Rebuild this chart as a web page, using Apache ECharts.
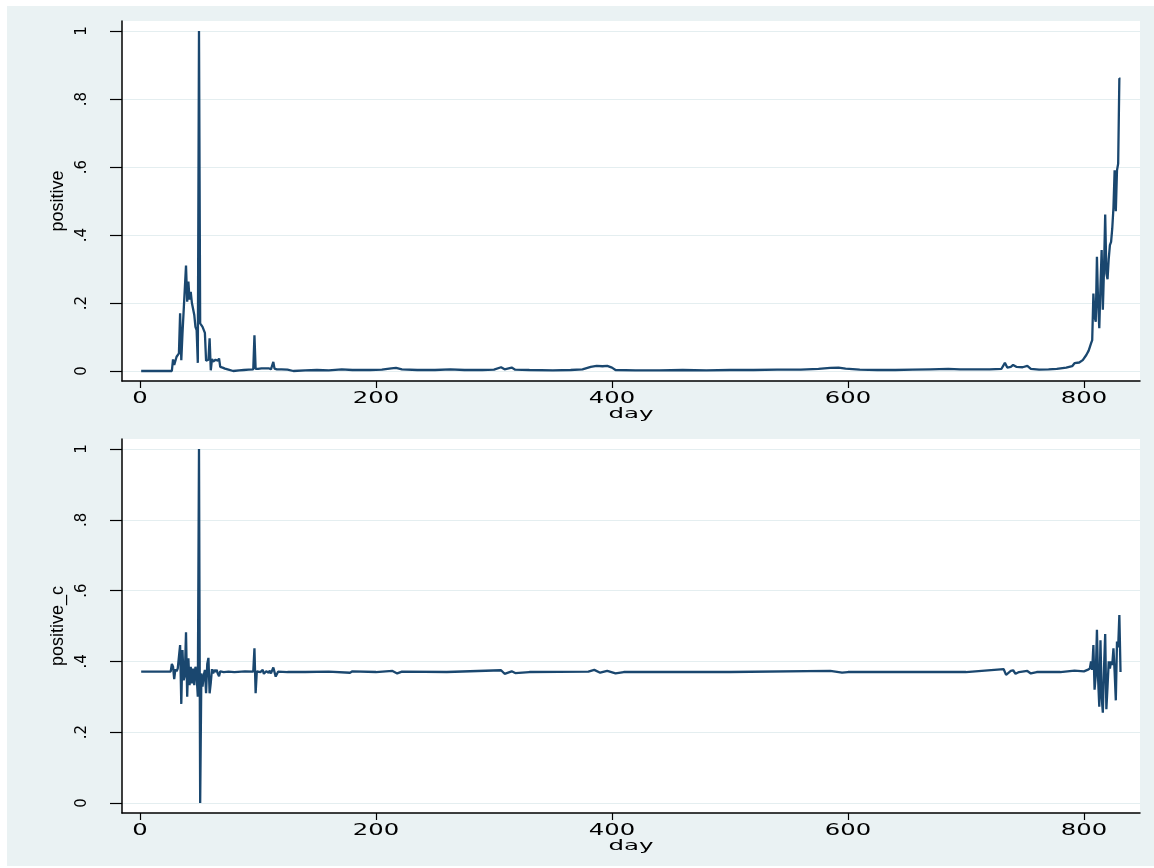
<!DOCTYPE html>
<html><head><meta charset="utf-8">
<script src="https://cdn.jsdelivr.net/npm/echarts@6/dist/echarts.min.js"></script>
<style>html,body{margin:0;padding:0;background:#fff;}#c{width:1154px;height:868px;}</style>
</head><body><div id="c"></div>
<script>
// ---- data ----
const xTickValues = [0, 200, 400, 600, 800];
const xTickLabels = ['0', '200', '400', '600', '800'];
const yTickValues = [0, 0.2, 0.4, 0.6, 0.8, 1];
const yTickLabels = ['0', '.2', '.4', '.6', '.8', '1'];
const xTitle = 'day';
const topTitle = 'positive';
const bottomTitle = 'positive_c';

// [day, positive]
const positive = [
  [1,0],[10,0],[20,0],[27,0],[28,0.034],[29,0.018],[31,0.042],[33,0.052],[34,0.17],[35,0.032],
  [36,0.11],[37,0.105],[39,0.31],[40,0.204],[41,0.263],[42,0.21],[43,0.233],[44,0.2],[45,0.2],
  [46,0.165],[47,0.13],[48,0.12],[49,0.024],[50,1.0],[51,0.14],[52,0.138],[53,0.13],[54,0.125],
  [55,0.112],[56,0.03],[57,0.032],[58,0.033],[59,0.096],[60,0.002],[61,0.035],[62,0.028],[63,0.03],
  [64,0.033],[65,0.028],[66,0.03],[67,0.037],[68,0.012],[70,0.01],[72,0.007],[75,0.004],[79,0.0],
  [84,0.002],[88,0.003],[92,0.004],[96,0.005],[97,0.105],[98,0.006],[100,0.006],[103,0.008],
  [104,0.013],[106,0.008],[107,0.01],[109,0.008],[110,0.01],[111,0.005],[113,0.027],[114,0.007],
  [116,0.005],[120,0.005],[125,0.004],[130,0.0],[140,0.002],[150,0.003],[160,0.002],[171,0.005],
  [180,0.003],[195,0.003],[205,0.004],[213,0.008],[217,0.009],[222,0.005],[235,0.003],[250,0.003],
  [263,0.005],[275,0.003],[290,0.003],[300,0.004],[306,0.011],[309,0.005],[315,0.01],[318,0.004],
  [330,0.003],[350,0.002],[365,0.003],[375,0.005],[382,0.012],[387,0.015],[392,0.014],[396,0.015],
  [400,0.01],[403,0.003],[420,0.002],[440,0.002],[460,0.003],[480,0.002],[500,0.003],[520,0.003],
  [540,0.004],[560,0.004],[575,0.006],[585,0.009],[592,0.01],[598,0.007],[610,0.004],[625,0.003],
  [640,0.003],[655,0.004],[670,0.005],[685,0.006],[695,0.005],[705,0.005],[720,0.005],[730,0.006],
  [733,0.024],[735,0.01],[738,0.012],[740,0.018],[743,0.012],[748,0.011],[752,0.015],[755,0.006],
  [762,0.004],[770,0.005],[777,0.006],[785,0.01],[790,0.014],[792,0.023],[796,0.025],[799,0.032],
  [802,0.047],[804,0.06],[806,0.081],[807,0.091],[808,0.228],[809,0.16],[810,0.145],[811,0.336],
  [812,0.2],[813,0.126],[814,0.25],[815,0.356],[816,0.18],[817,0.3],[818,0.46],[819,0.287],
  [820,0.27],[821,0.33],[822,0.37],[823,0.38],[824,0.42],[825,0.48],[826,0.59],[827,0.47],
  [828,0.59],[829,0.61],[830,0.86],[831,0.86]
];

// [day, positive_c]
const positiveC = [
  [1,0.371],[15,0.371],[26,0.371],[27,0.393],[28,0.385],[29,0.35],[30,0.378],[31,0.372],[32,0.38],
  [33,0.375],[34,0.446],[35,0.28],[36,0.432],[37,0.347],[38,0.36],[39,0.482],[40,0.30],[41,0.409],
  [42,0.333],[43,0.385],[44,0.338],[45,0.38],[46,0.333],[47,0.385],[48,0.36],[49,0.30],[50,1.0],
  [51,0.0],[52,0.366],[53,0.329],[54,0.36],[55,0.376],[56,0.31],[57,0.393],[58,0.41],[59,0.31],
  [60,0.34],[61,0.378],[62,0.366],[63,0.376],[64,0.37],[65,0.376],[66,0.365],[67,0.358],[68,0.372],
  [69,0.375],[71,0.37],[75,0.371],[80,0.37],[89,0.372],[96,0.371],[97,0.437],[98,0.31],[99,0.372],
  [102,0.37],[104,0.376],[105,0.365],[107,0.372],[109,0.368],[110,0.374],[111,0.366],[113,0.383],
  [115,0.357],[117,0.371],[125,0.37],[140,0.37],[160,0.371],[178,0.368],[180,0.372],[200,0.37],
  [214,0.373],[218,0.366],[222,0.371],[260,0.37],[306,0.375],[309,0.365],[315,0.372],[318,0.367],
  [330,0.37],[380,0.371],[385,0.376],[390,0.368],[396,0.373],[403,0.366],[410,0.37],[500,0.37],
  [585,0.373],[595,0.368],[600,0.37],[700,0.37],[732,0.378],[734,0.362],[738,0.373],[740,0.375],
  [742,0.365],[745,0.37],[752,0.373],[755,0.366],[760,0.37],[780,0.37],[792,0.374],[800,0.372],
  [803,0.376],[805,0.38],[806,0.40],[807,0.376],[808,0.446],[809,0.32],[810,0.36],[811,0.489],
  [812,0.35],[813,0.272],[814,0.46],[815,0.30],[816,0.255],[817,0.38],[818,0.477],[819,0.265],
  [820,0.33],[821,0.40],[822,0.38],[823,0.40],[824,0.39],[825,0.437],[826,0.37],[827,0.29],
  [828,0.456],[829,0.44],[830,0.531],[831,0.37]
];

// ---- styling / layout ----
const navy = '#1a476f';
const panelBg = '#eaf2f3';
const gridLineColor = '#e4eef0';
const xMin = -15.25, xMax = 847.5;

function yLabel(v) {
  for (let i = 0; i < yTickValues.length; i++) if (Math.abs(yTickValues[i] - v) < 1e-6) return yTickLabels[i];
  return '';
}
function xAxisCfg(gi) {
  return {
    type: 'value', gridIndex: gi, min: xMin, max: xMax,
    axisLine: { show: true, onZero: false, lineStyle: { color: '#000', width: 1.5 } },
    axisTick: { show: true, length: 7, customValues: xTickValues, lineStyle: { color: '#000', width: 1.2 } },
    axisLabel: { show: false },
    splitLine: { show: false }
  };
}
function yAxisCfg(gi, min, max, name) {
  return {
    type: 'value', gridIndex: gi, min: min, max: max,
    name: name, nameLocation: 'middle', nameRotate: 90, nameGap: 55,
    nameTextStyle: { fontFamily: "'Liberation Sans Narrow', 'Liberation Sans', sans-serif", fontSize: 18, color: '#000' },
    axisLine: { show: true, onZero: false, lineStyle: { color: '#000', width: 1.5 } },
    axisTick: { show: true, length: 12, customValues: yTickValues, lineStyle: { color: '#000', width: 1.2 } },
    axisLabel: { show: true, rotate: 90, margin: 32, customValues: yTickValues, formatter: yLabel,
      fontFamily: 'DejaVu Sans', fontSize: 15, color: '#000' },
    splitLine: { show: true, lineStyle: { color: gridLineColor, width: 1 } }
  };
}

const chart = echarts.init(document.getElementById('c'), null, { renderer: 'canvas' });
chart.setOption({
  animation: false,
  backgroundColor: '#ffffff',
  graphic: [
    { id: 'bgTop', type: 'rect', silent: true, z: -100, shape: { x: 7, y: 6, width: 1147, height: 432 }, style: { fill: panelBg } },
    { id: 'bgBot', type: 'rect', silent: true, z: -100, shape: { x: 7, y: 438, width: 1147, height: 428 }, style: { fill: panelBg } }
  ],
  grid: [
    { left: 122, top: 21, width: 1018, height: 360, show: true, backgroundColor: '#fff', borderWidth: 0, containLabel: false },
    { left: 122, top: 439, width: 1018, height: 374, show: true, backgroundColor: '#fff', borderWidth: 0, containLabel: false }
  ],
  xAxis: [xAxisCfg(0), xAxisCfg(1)],
  yAxis: [yAxisCfg(0, -0.0294, 1.0294, topTitle), yAxisCfg(1, -0.0282, 1.0282, bottomTitle)],
  series: [
    { type: 'line', xAxisIndex: 0, yAxisIndex: 0, data: positive, showSymbol: false, symbol: 'none',
      lineStyle: { color: navy, width: 2.3 }, itemStyle: { color: navy } },
    { type: 'line', xAxisIndex: 1, yAxisIndex: 1, data: positiveC, showSymbol: false, symbol: 'none',
      lineStyle: { color: navy, width: 2.3 }, itemStyle: { color: navy } }
  ]
});

// x tick labels and axis titles (wide Stata-like lettering), positioned through the axes' scales
const gfx = [];
[0, 1].forEach(function (g) {
  const axisY = chart.convertToPixel({ yAxisIndex: g }, g === 0 ? -0.0294 : -0.0282);
  xTickValues.forEach(function (v, i) {
    gfx.push({ id: 'xl' + g + '_' + i, type: 'text', silent: true, z: 10,
      x: chart.convertToPixel({ xAxisIndex: g }, v), y: axisY + 18, scaleX: 1.62,
      style: { text: xTickLabels[i], fontFamily: 'DejaVu Sans', fontSize: 15, fill: '#000',
        textAlign: 'center', textVerticalAlign: 'middle' } });
  });
  gfx.push({ id: 'xt' + g, type: 'text', silent: true, z: 10,
    x: chart.convertToPixel({ xAxisIndex: g }, (xMin + xMax) / 2), y: axisY + 33.5, scaleX: 1.75,
    style: { text: xTitle, fontFamily: 'DejaVu Sans', fontSize: 14, fill: '#000',
      textAlign: 'center', textVerticalAlign: 'middle' } });
});
chart.setOption({ graphic: gfx });
</script>
</body></html>
